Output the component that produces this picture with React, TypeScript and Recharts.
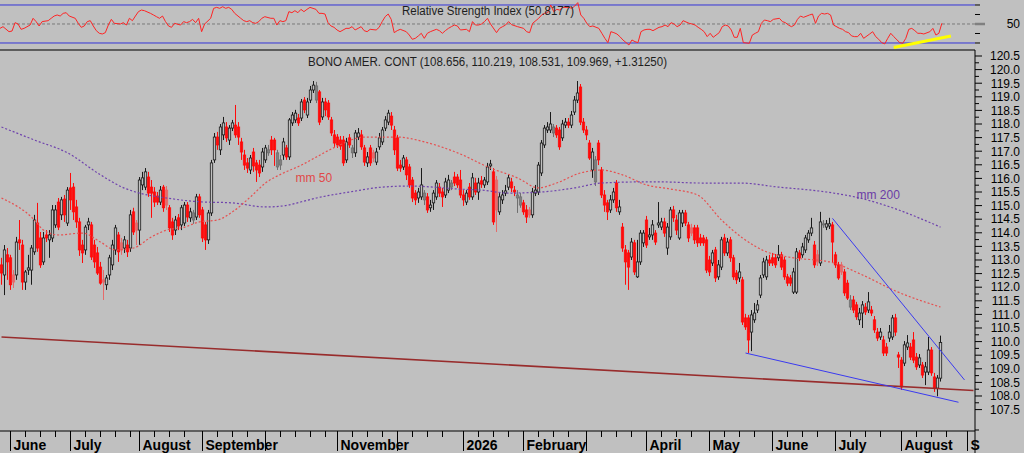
import React from "react";
import {
  ComposedChart,
  Line,
  Bar,
  XAxis,
  YAxis,
  ReferenceLine,
  ReferenceDot,
} from "recharts";

// [open, high, low, close]
type Ohlc = [number, number, number, number];

const may25: Ohlc[] = [
  [112.82, 113.08, 112.09, 112.52], [112.45, 113.55, 111.71, 113.37], [113.19, 113.44, 112.27, 112.93],
];
const jun25: Ohlc[] = [
  [113.08, 113.19, 111.9, 112.09], [112.45, 112.63, 111.97, 112.19], [112.45, 113.85, 112.27, 113.66],
  [113.74, 114.47, 113.37, 113.63], [113.55, 113.74, 111.9, 112.19], [112.19, 112.63, 111.9, 112.56],
  [112.63, 113.19, 112.45, 112.71], [112.63, 113.55, 112.09, 113.44], [113.3, 114.66, 113.19, 114.47],
  [114.36, 115.1, 113.3, 113.44], [113.81, 114.03, 112.71, 112.82], [112.93, 114.03, 112.82, 113.81],
  [113.92, 114.1, 113.66, 113.81], [113.74, 114.1, 113.08, 113.92], [113.81, 115.02, 113.66, 114.84],
  [114.29, 115.02, 114.18, 114.84], [115.13, 115.28, 114.1, 114.21], [114.66, 115.32, 114.47, 115.21],
  [115.24, 115.39, 114.4, 114.66], [114.36, 115.68, 114.25, 115.57],
];
const jul25: Ohlc[] = [
  [115.65, 116.2, 114.84, 115.21], [115.68, 115.83, 114.47, 114.77], [114.95, 115.21, 114.18, 114.4],
  [114.4, 114.55, 113.15, 113.37], [113.55, 113.74, 112.89, 113.26], [113.37, 114.29, 113.19, 114.21],
  [114.29, 114.55, 114.1, 114.4], [114.29, 114.4, 113.0, 113.11], [113.55, 113.74, 112.71, 112.93],
  [113.26, 113.48, 112.45, 112.52], [112.74, 112.93, 112.09, 112.15], [112.27, 112.63, 111.53, 112.19],
  [112.09, 112.45, 111.9, 112.34], [112.45, 113.19, 112.27, 113.08], [112.82, 113.74, 112.63, 113.55],
  [113.37, 114.29, 113.19, 114.18], [113.92, 114.03, 112.93, 113.3], [113.63, 113.81, 113.19, 113.37],
  [113.44, 113.88, 113.26, 113.74], [113.55, 113.74, 113.11, 113.3], [113.44, 114.84, 113.3, 114.66],
  [114.77, 114.92, 113.92, 114.03], [114.36, 114.47, 113.55, 114.1],
];
const aug25: Ohlc[] = [
  [114.1, 116.05, 113.55, 115.94], [115.76, 116.24, 115.57, 116.02], [115.68, 116.38, 115.57, 116.24],
  [116.05, 116.24, 115.32, 115.46], [115.68, 115.94, 114.55, 115.46], [115.5, 115.68, 114.95, 115.13],
  [115.35, 115.5, 115.02, 115.13], [115.13, 115.72, 115.02, 115.57], [115.68, 115.76, 114.77, 114.92],
  [115.57, 115.72, 114.84, 115.02], [114.92, 115.02, 114.03, 114.18], [114.4, 114.55, 113.74, 113.92],
  [114.1, 114.62, 113.92, 114.47], [114.55, 114.69, 114.1, 114.25], [114.29, 115.02, 114.1, 114.92],
  [114.36, 115.13, 114.25, 115.02], [115.02, 115.13, 114.4, 114.58], [114.55, 114.92, 114.4, 114.77],
  [114.47, 114.84, 114.33, 114.73], [114.58, 115.43, 114.47, 115.32], [115.32, 115.43, 114.55, 114.66],
];
const sep25: Ohlc[] = [
  [114.84, 114.95, 113.66, 113.81], [114.29, 114.4, 113.37, 113.74], [113.74, 114.84, 113.59, 114.73],
  [114.73, 116.68, 114.62, 116.57], [116.68, 117.67, 116.57, 117.52], [117.52, 117.71, 117.05, 117.23],
  [117.05, 118.0, 116.86, 117.89], [117.6, 118.26, 117.41, 118.04], [117.89, 118.07, 117.34, 117.49],
  [117.41, 117.96, 117.23, 117.85], [117.85, 118.15, 117.74, 118.04], [117.96, 118.7, 117.49, 117.6],
  [117.89, 118.07, 117.23, 117.52], [117.34, 117.49, 116.68, 116.97], [116.86, 117.05, 116.31, 116.49],
  [116.57, 116.75, 116.2, 116.38], [116.31, 116.86, 116.16, 116.75], [116.97, 117.12, 116.24, 116.46],
  [116.57, 116.68, 115.87, 116.31], [116.49, 116.68, 116.05, 116.2], [116.42, 117.12, 116.24, 116.97],
];
const oct25: Ohlc[] = [
  [116.68, 117.23, 116.57, 117.12], [116.94, 117.23, 116.83, 117.05], [117.41, 117.56, 116.86, 117.05],
  [117.41, 117.49, 116.46, 117.05], [116.42, 117.05, 116.31, 116.94], [116.49, 116.86, 116.31, 116.68],
  [116.86, 117.49, 116.68, 117.34], [117.12, 117.23, 116.68, 116.79], [116.79, 118.22, 116.68, 118.15],
  [118.04, 118.44, 117.93, 118.33], [118.15, 118.52, 118.04, 118.4], [118.22, 118.37, 117.93, 118.04],
  [118.22, 118.92, 118.11, 118.81], [118.88, 118.99, 118.4, 118.52], [118.33, 118.96, 118.22, 118.81],
  [118.88, 119.4, 118.77, 119.25], [119.25, 119.58, 119.14, 119.43], [118.88, 119.55, 118.77, 119.4],
  [119.18, 119.25, 117.96, 118.07], [118.26, 118.96, 118.15, 118.81], [118.81, 118.96, 118.29, 118.52],
  [118.77, 118.88, 118.15, 118.26], [118.15, 118.26, 117.56, 117.67], [117.6, 117.78, 117.16, 117.3],
];
const nov25: Ohlc[] = [
  [117.52, 117.63, 117.12, 117.23], [117.41, 117.56, 117.05, 117.19], [117.41, 117.56, 116.46, 116.57],
  [116.68, 117.49, 116.57, 117.34], [117.49, 117.63, 117.12, 117.23], [116.94, 117.23, 116.75, 117.12],
  [116.94, 117.78, 116.79, 117.67], [117.52, 117.85, 117.41, 117.67], [117.6, 117.78, 117.05, 117.16],
  [117.12, 117.23, 116.46, 116.6], [116.57, 116.97, 116.42, 116.79], [117.12, 117.23, 116.46, 116.57],
  [116.94, 117.05, 116.6, 116.75], [116.6, 117.12, 116.49, 116.97], [117.16, 117.67, 117.05, 117.49],
  [117.34, 117.89, 117.23, 117.78], [117.85, 118.29, 117.74, 118.15], [118.07, 118.52, 117.96, 118.4],
  [118.29, 118.44, 117.78, 117.96], [117.78, 117.93, 116.86, 117.05],
];
const dec25: Ohlc[] = [
  [117.49, 117.6, 116.27, 116.38], [116.49, 116.68, 116.24, 116.38], [116.42, 116.86, 116.31, 116.75],
  [116.68, 116.79, 115.94, 116.13], [116.42, 116.53, 115.65, 115.76], [115.94, 116.05, 115.13, 115.28],
  [115.46, 115.57, 115.02, 115.21], [115.28, 115.65, 115.1, 115.5], [115.32, 116.38, 115.21, 115.76],
  [115.21, 115.57, 115.02, 115.46], [115.32, 115.46, 114.73, 114.84], [114.92, 115.21, 114.77, 115.02],
  [115.1, 115.57, 114.84, 115.46], [115.32, 115.94, 115.21, 115.83], [115.68, 115.83, 115.32, 115.46],
  [115.5, 115.65, 114.95, 115.32], [115.39, 116.02, 115.28, 115.87], [115.57, 116.13, 115.46, 115.94],
  [115.68, 115.94, 115.57, 115.83], [116.05, 116.24, 115.72, 115.83], [116.05, 116.16, 115.65, 115.76],
  [115.94, 116.31, 115.28, 115.39],
];
const jan26: Ohlc[] = [
  [115.39, 115.57, 114.99, 115.21], [115.13, 115.57, 115.02, 115.46], [115.68, 115.83, 115.21, 115.32],
  [115.32, 116.2, 115.21, 116.02], [115.83, 116.02, 115.39, 115.5], [115.5, 116.02, 115.21, 115.83],
  [115.91, 116.09, 115.65, 115.79], [115.76, 116.05, 115.65, 115.94], [115.87, 116.57, 115.76, 116.42],
  [116.46, 116.68, 116.31, 116.53], [116.24, 116.38, 114.29, 114.4], [115.94, 116.09, 114.03, 114.84],
  [114.77, 115.46, 114.66, 115.32], [115.21, 115.57, 115.06, 115.39], [115.46, 115.76, 115.35, 115.54],
  [115.68, 116.13, 115.57, 116.02], [115.87, 116.02, 115.5, 115.65], [115.57, 115.72, 115.35, 115.5],
  [115.28, 115.57, 114.73, 115.39], [115.02, 115.46, 114.92, 115.32],
];
const feb26: Ohlc[] = [
  [115.1, 115.21, 114.66, 114.77], [114.84, 115.02, 114.36, 114.58], [114.84, 114.95, 114.55, 114.66],
  [114.66, 115.65, 114.55, 115.5], [115.46, 115.76, 115.35, 115.57], [115.5, 116.6, 115.39, 116.49],
  [116.2, 117.41, 116.09, 117.3], [117.23, 117.96, 117.12, 117.85], [117.78, 118.07, 117.67, 117.89],
  [117.78, 118.44, 117.67, 118.0], [117.67, 118.0, 117.52, 117.89], [117.85, 117.96, 117.49, 117.6],
  [117.78, 117.89, 117.05, 117.16], [117.49, 118.15, 117.38, 118.0], [117.96, 118.22, 117.85, 118.07],
  [118.07, 118.22, 117.85, 117.96], [117.96, 118.48, 117.85, 118.33], [118.44, 119.03, 118.33, 118.88],
  [118.88, 119.58, 118.77, 119.14], [119.36, 119.47, 117.96, 118.07], [118.07, 118.22, 117.67, 117.78],
];
const mar26: Ohlc[] = [
  [117.78, 117.93, 117.41, 117.6], [117.3, 117.41, 116.68, 116.75], [116.31, 117.12, 116.02, 116.97],
  [115.87, 116.82, 115.72, 116.68], [117.3, 117.41, 116.49, 116.68], [116.31, 116.42, 115.28, 115.39],
  [115.39, 115.57, 114.77, 115.02], [115.1, 115.21, 114.47, 114.77], [114.84, 115.39, 114.73, 115.21],
  [115.21, 115.65, 115.1, 115.5], [115.83, 115.94, 114.77, 114.92], [114.77, 115.21, 114.66, 114.95],
  [114.21, 114.36, 113.3, 113.44], [113.37, 113.55, 112.09, 112.93], [113.26, 113.37, 111.9, 112.74],
  [113.11, 113.81, 113.0, 113.66], [113.63, 113.74, 112.45, 112.56], [112.38, 113.74, 112.34, 112.93],
  [112.93, 114.1, 112.82, 113.99], [113.63, 114.1, 113.48, 113.99],
];
const apr26: Ohlc[] = [
  [114.47, 114.62, 113.44, 113.55], [113.85, 114.18, 113.74, 113.92], [113.92, 114.47, 113.74, 114.29],
  [113.99, 114.1, 113.55, 113.66], [114.29, 115.13, 114.18, 114.36], [114.21, 114.55, 114.1, 114.4],
  [114.4, 114.55, 113.85, 113.99], [113.44, 114.36, 113.19, 114.21], [113.85, 114.95, 113.74, 114.84],
  [114.84, 114.99, 114.4, 114.55], [114.47, 114.66, 113.92, 114.1], [113.81, 114.84, 113.74, 114.73],
  [114.36, 114.84, 114.21, 114.73], [114.73, 114.84, 114.25, 114.36], [114.29, 114.4, 113.66, 113.81],
  [114.18, 114.33, 113.88, 113.99], [114.18, 114.29, 113.59, 113.74], [114.18, 114.29, 113.48, 113.63],
  [113.81, 113.96, 113.52, 113.63], [113.81, 113.92, 113.52, 113.63], [113.74, 113.85, 112.52, 112.63],
];
const may26: Ohlc[] = [
  [113.0, 113.15, 112.41, 112.56], [112.89, 113.37, 112.78, 113.26], [113.37, 113.48, 112.19, 112.34],
  [112.38, 113.0, 112.27, 112.82], [112.74, 113.85, 112.63, 113.74], [113.81, 113.96, 113.15, 113.26],
  [113.26, 113.81, 113.15, 113.66], [113.74, 113.85, 112.93, 113.08], [113.08, 113.19, 112.27, 112.38],
  [112.52, 112.63, 112.12, 112.27], [112.34, 112.89, 112.19, 112.56], [112.27, 112.38, 110.61, 110.72],
  [110.87, 111.02, 110.43, 110.54], [110.87, 110.98, 109.58, 110.06], [110.35, 111.16, 109.65, 110.98],
  [110.8, 111.42, 110.69, 111.05], [111.16, 111.53, 111.05, 111.35], [111.71, 112.45, 111.6, 112.34],
  [112.45, 113.08, 112.34, 112.93], [112.38, 113.15, 112.27, 113.0], [113.0, 113.19, 112.78, 112.89],
];
const jun26: Ohlc[] = [
  [113.08, 113.26, 112.78, 112.89], [113.08, 113.22, 112.71, 112.82], [113.08, 113.55, 112.96, 113.19],
  [113.19, 113.3, 112.63, 112.74], [113.0, 113.11, 112.27, 112.38], [112.38, 112.49, 112.04, 112.15],
  [112.34, 112.45, 112.04, 112.15], [111.82, 112.71, 111.75, 112.56], [111.82, 113.44, 111.75, 113.3],
  [113.26, 113.37, 112.96, 113.08], [113.19, 113.63, 113.08, 113.48], [113.37, 113.92, 113.26, 113.81],
  [113.74, 114.1, 113.63, 113.99], [113.99, 114.55, 113.88, 114.18], [113.55, 113.7, 112.71, 112.82],
  [113.19, 113.37, 112.78, 112.93], [112.89, 114.77, 112.78, 114.4], [114.29, 114.47, 114.18, 114.33],
  [114.21, 114.47, 114.1, 114.33], [114.25, 114.55, 114.14, 114.33], [114.29, 114.4, 112.89, 113.66],
];
const jul26: Ohlc[] = [
  [113.19, 113.3, 112.71, 112.82], [112.82, 112.93, 112.27, 112.34], [112.82, 112.93, 112.45, 112.56],
  [112.56, 112.67, 111.68, 111.79], [112.15, 112.27, 111.53, 111.6], [111.27, 111.71, 111.16, 111.53],
  [111.53, 111.68, 111.05, 111.16], [111.35, 111.46, 110.8, 110.91], [110.8, 111.24, 110.61, 111.05],
  [111.05, 111.49, 110.5, 111.35], [111.27, 111.42, 110.98, 111.09], [111.16, 111.82, 111.05, 111.46],
  [111.16, 111.31, 110.94, 111.05], [110.8, 110.94, 110.32, 110.43], [110.35, 110.5, 110.02, 110.13],
  [110.17, 110.5, 110.06, 110.35], [110.06, 110.21, 109.47, 109.58], [109.8, 109.95, 109.47, 109.58],
  [110.13, 110.61, 109.99, 110.35], [110.17, 110.98, 110.06, 110.87], [110.87, 111.02, 110.21, 110.35],
  [109.51, 109.62, 109.03, 109.43],
];
const aug26: Ohlc[] = [
  [109.32, 109.43, 108.22, 108.33], [109.21, 110.02, 109.1, 109.88], [109.8, 110.24, 109.69, 109.95],
  [109.8, 109.95, 109.32, 109.43], [110.06, 110.35, 109.21, 109.32], [109.43, 109.58, 108.96, 109.07],
  [109.14, 109.54, 109.03, 109.4], [109.14, 109.25, 108.66, 108.77], [108.88, 109.25, 108.4, 109.07],
  [108.88, 110.17, 108.77, 109.69], [109.69, 109.8, 108.74, 108.85], [108.7, 108.85, 108.15, 108.29],
  [108.29, 108.77, 107.99, 108.66], [108.656, 110.219, 108.531, 109.969],
];

const bars: Ohlc[] = [
  ...may25, ...jun25, ...jul25, ...aug25, ...sep25, ...oct25, ...nov25, ...dec25,
  ...jan26, ...feb26, ...mar26, ...apr26, ...may26, ...jun26, ...jul26, ...aug26,
];

// moving averages and RSI: [bar index, value]
const ma50Pts: [number, number][] = [
  [0, 115.28], [11, 114.47], [14, 114.1], [19, 113.92], [27, 113.99], [33, 113.66], [38, 113.37],
  [44, 113.44], [50, 113.85], [55, 114.1], [61, 114.21], [66, 114.4], [72, 114.47], [77, 114.77],
  [83, 115.32], [88, 115.83], [94, 116.2], [100, 116.49], [105, 116.79], [112, 117.19], [121, 117.52],
  [132, 117.52], [141, 117.34], [152, 116.94], [163, 116.38], [172, 116.02], [179, 115.65], [185, 115.83],
  [193, 116.2], [200, 116.31], [207, 116.13], [215, 115.76], [223, 115.61], [232, 115.39], [240, 114.47],
  [247, 113.81], [255, 113.3], [264, 113.08], [276, 112.93], [287, 112.45], [298, 111.86], [313, 111.27],
];
const ma200Pts: [number, number][] = [
  [0, 117.89], [11, 117.41], [22, 116.94], [33, 116.13], [41, 115.64], [46, 115.46], [55, 115.28],
  [66, 115.14], [77, 115.1], [88, 114.95], [94, 114.99], [100, 115.14], [105, 115.28], [116, 115.5],
  [127, 115.68], [136, 115.72], [144, 115.68], [152, 115.61], [160, 115.57], [169, 115.46], [180, 115.5],
  [191, 115.65], [200, 115.83], [213, 115.87], [220, 115.87], [233, 115.83], [246, 115.83], [259, 115.68],
  [275, 115.5], [286, 115.28], [297, 114.92], [309, 114.4], [313, 114.21],
];
const rsiPts: [number, number][] = [
  [0, 45.4], [1, 47.2], [3, 41.9], [4, 42.6], [5, 51.4], [6, 50.0], [7, 44.4], [8, 45.4], [10, 48.9],
  [11, 56.0], [12, 52.5], [13, 47.9], [14, 52.5], [16, 53.5], [17, 56.0], [18, 58.4], [19, 59.5],
  [20, 58.4], [21, 61.2], [22, 61.9], [23, 58.4], [25, 56.0], [26, 50.7], [27, 46.5], [28, 47.9],
  [29, 52.5], [30, 53.5], [31, 47.9], [32, 43.0], [33, 40.2], [34, 39.5], [35, 40.9], [36, 48.9],
  [37, 54.9], [38, 50.7], [40, 50.0], [41, 51.4], [42, 48.9], [43, 56.0], [44, 53.5], [45, 58.4],
  [46, 63.0], [47, 64.7], [48, 64.0], [50, 61.2], [51, 59.5], [52, 57.7], [53, 56.0], [54, 58.4],
  [55, 52.5], [56, 47.9], [57, 46.5], [58, 50.7], [60, 48.9], [61, 52.5], [62, 51.4], [63, 52.5],
  [64, 54.9], [65, 51.4], [66, 56.0], [67, 41.9], [68, 50.0], [70, 56.0], [71, 66.5], [72, 67.5],
  [73, 66.5], [74, 68.2], [75, 66.5], [76, 67.5], [77, 65.4], [78, 61.2], [80, 56.0], [81, 53.5],
  [82, 52.5], [83, 53.5], [84, 51.4], [85, 50.7], [86, 52.5], [87, 56.0], [88, 57.7], [90, 56.0],
  [91, 56.0], [92, 48.9], [93, 53.5], [94, 52.5], [95, 53.5], [96, 63.0], [97, 61.9], [98, 64.0],
  [99, 61.9], [100, 65.4], [101, 63.0], [102, 65.4], [103, 67.5], [105, 65.4], [106, 61.2],
  [107, 61.2], [108, 60.5], [109, 51.4], [110, 47.9], [111, 46.5], [112, 43.7], [113, 41.9],
  [115, 45.4], [116, 45.4], [117, 47.2], [118, 43.7], [119, 45.4], [120, 47.2], [121, 43.0],
  [122, 41.9], [123, 44.4], [125, 43.7], [126, 46.5], [127, 52.5], [128, 57.7], [129, 60.5],
  [130, 54.9], [131, 40.9], [132, 43.0], [133, 44.4], [135, 41.9], [136, 38.4], [137, 33.9],
  [138, 34.9], [139, 37.4], [140, 40.2], [141, 34.9], [142, 40.2], [143, 41.9], [145, 44.4],
  [146, 43.0], [147, 40.2], [148, 43.0], [149, 45.4], [150, 47.2], [151, 48.9], [152, 47.9],
  [153, 43.7], [155, 44.4], [156, 41.9], [157, 52.5], [158, 48.9], [159, 48.9], [160, 50.0],
  [161, 52.5], [162, 56.0], [163, 50.0], [165, 40.9], [166, 45.4], [167, 47.2], [168, 48.9],
  [169, 52.5], [170, 49.3], [172, 47.2], [174, 45.4], [175, 41.9], [176, 40.9], [177, 50.7],
  [179, 56.0], [180, 59.5], [181, 61.2], [182, 61.9], [183, 70.0], [184, 63.0], [185, 65.4],
  [186, 64.7], [187, 67.5], [189, 67.5], [190, 66.5], [191, 68.9], [192, 72.5], [193, 59.5],
  [194, 56.0], [195, 50.7], [196, 47.2], [197, 47.9], [199, 45.4], [200, 40.2], [201, 34.9],
  [202, 30.4], [203, 41.9], [204, 40.9], [205, 39.5], [206, 36.7], [207, 33.2], [209, 27.9],
  [210, 33.2], [211, 31.4], [212, 30.4], [213, 41.9], [214, 43.7], [215, 44.4], [216, 44.4],
  [217, 43.0], [219, 46.5], [220, 47.2], [221, 48.9], [222, 47.2], [223, 51.4], [224, 50.0],
  [225, 47.2], [226, 48.9], [227, 53.5], [229, 50.7], [230, 50.0], [231, 48.9], [232, 46.5],
  [233, 44.4], [234, 41.9], [235, 36.7], [236, 40.2], [237, 36.0], [239, 40.9], [240, 47.2],
  [241, 48.9], [242, 47.9], [243, 43.7], [244, 36.0], [245, 36.0], [246, 45.4], [247, 30.4],
  [249, 29.7], [250, 38.4], [251, 40.2], [252, 41.9], [253, 50.7], [254, 54.2], [255, 53.5],
  [256, 52.5], [257, 54.9], [259, 56.0], [260, 52.5], [261, 51.4], [262, 48.9], [263, 47.2],
  [264, 48.9], [265, 54.9], [266, 58.4], [267, 57.0], [269, 59.5], [270, 60.5], [271, 50.7],
  [272, 58.4], [273, 61.2], [274, 60.5], [275, 61.2], [276, 59.5], [277, 48.9], [279, 45.4],
  [280, 44.4], [281, 41.9], [282, 40.9], [283, 37.4], [284, 36.7], [285, 36.7], [286, 40.2],
  [287, 34.9], [289, 39.5], [290, 41.9], [291, 36.7], [292, 33.9], [293, 30.4], [294, 29.0],
  [295, 34.9], [296, 40.2], [297, 36.7], [299, 30.4], [300, 29.7], [301, 34.9], [302, 44.4],
  [303, 45.4], [304, 43.0], [305, 40.2], [306, 40.2], [307, 39.5], [309, 41.9], [310, 45.4],
  [311, 38.4], [312, 40.2], [313, 50.8],
];

// hand-drawn trend lines: [bar index, value]
const supportLine: [number, number][] = [[0, 110.17], [324, 108.2]];
const wedgeLow: [number, number][] = [[248, 109.58], [319, 107.77]];
const wedgeHigh: [number, number][] = [[277, 114.53], [321, 108.59]];
const rsiTrend: [number, number][] = [[297, 25.3], [316, 37.4]];

const monthIdx = [3, 23, 46, 67, 88, 112, 132, 154, 174, 195, 215, 236, 257, 278, 300, 322];
// October, December and March are hidden behind the longer names; September at the edge shows as "S"
const monthLabels = [
  "June", "July", "August", "September", "", "November", "", "2026",
  "February", "", "April", "May", "June", "July", "August", "S",
];
const priceLabels = [
  107.5, 108, 108.5, 109, 109.5, 110, 110.5, 111, 111.5, 112, 112.5, 113, 113.5, 114,
  114.5, 115, 115.5, 116, 116.5, 117, 117.5, 118, 118.5, 119, 119.5, 120, 120.5,
];
const rsiTicks = [30, 40, 50, 60, 70];

const SLOTS = 325;
const PLOT_W = 975;
const FONT = "'Liberation Sans', Arial, Helvetica, sans-serif";

const priceTicks = [106.75, ...priceLabels.flatMap((v) => (v < 120.5 ? [v, v + 0.25] : [v]))];

const weekIdx = new Set<number>();
monthIdx.forEach((m, k) => {
  const next = monthIdx[k + 1] ?? SLOTS;
  for (let w = m + 5; w < next - 2; w += 5) weekIdx.add(w);
});

const rows: any[] = Array.from({ length: SLOTS }, (_, i) => {
  const b = bars[i];
  if (!b) return { i };
  return { i, o: b[0], h: b[1], l: b[2], c: b[3], hl: [b[2], b[1]], pc: i > 0 ? bars[i - 1][3] : null };
});
ma50Pts.forEach(([i, v]) => (rows[i].ma50 = v));
ma200Pts.forEach(([i, v]) => (rows[i].ma200 = v));
rsiPts.forEach(([i, v]) => (rows[i].rsi = v));

const seg = (p: [number, number][]) => p.map(([x, y]) => ({ x, y }));

function Candle(props: any) {
  const { x, y, width, height, payload } = props;
  if (!payload || payload.o == null) return <g />;
  const { o, h, l, c, pc } = payload;
  const top = Math.min(y, y + height);
  const span = Math.abs(height);
  const toY = (p: number) => (h === l ? top : top + ((h - p) / (h - l)) * span);
  const cx = x + width / 2;
  const yo = toY(o);
  const yc = toY(c);
  let stroke = "#ff0a0a";
  let fill = "#ff0a0a";
  if (c >= o) {
    if (pc != null && c < pc) {
      stroke = "#6f6f6f";
      fill = "#808080";
    } else {
      stroke = "#1a1a1a";
      fill = "#c0c0c0";
    }
  } else if (pc != null && c > pc) {
    stroke = "#e66a6a";
    fill = "#e66a6a";
  }
  return (
    <g>
      <line x1={cx} x2={cx} y1={top} y2={top + span} stroke={stroke} strokeWidth={1} />
      <rect
        x={cx - 1.2}
        y={Math.min(yo, yc)}
        width={2.4}
        height={Math.max(Math.abs(yo - yc), 1)}
        fill={fill}
        stroke={stroke}
        strokeWidth={0.8}
      />
    </g>
  );
}

function MonthTick(props: any) {
  const { x, y, payload } = props;
  const k = monthIdx.indexOf(payload.value);
  if (k >= 0) {
    const label = monthLabels[k];
    return (
      <g>
        <line x1={x} x2={x} y1={y} y2={y + 20} stroke="#000" />
        {label && (
          <text x={x + 3} y={y + 19} fontFamily={FONT} fontWeight="bold" fontSize={14} fill="#000">
            {label}
          </text>
        )}
      </g>
    );
  }
  if (weekIdx.has(payload.value)) {
    return <line x1={x} x2={x} y1={y} y2={y + 6} stroke="#000" />;
  }
  return <g />;
}

function PriceTick(props: any) {
  const { x, y, payload } = props;
  const v = payload.value;
  const major = priceLabels.includes(v);
  return (
    <g>
      <line x1={x} x2={x + (major ? 7 : 4)} y1={y} y2={y} stroke="#000" />
      {major && (
        <text x={x + 45} y={y + 4.3} textAnchor="end" fontFamily={FONT} fontSize={12} fill="#000">
          {v.toFixed(1)}
        </text>
      )}
    </g>
  );
}

function RsiTick(props: any) {
  const { x, y, payload } = props;
  const mid = payload.value === 50;
  return (
    <g>
      <line
        x1={x}
        x2={x + (mid ? 10 : 5)}
        y1={y}
        y2={y}
        stroke={mid ? "#808080" : "#000"}
        strokeWidth={mid ? 2.5 : 1}
      />
      {mid && (
        <text x={x + 45} y={y + 4.3} textAnchor="end" fontFamily={FONT} fontSize={12} fill="#000">
          50
        </text>
      )}
    </g>
  );
}

function MaLabel(props: any) {
  const vb = props.viewBox;
  if (!vb) return null;
  return (
    <text x={vb.x} y={vb.y} fontFamily={FONT} fontSize={12} fill={props.color}>
      {props.text}
    </text>
  );
}

export default function App() {
  return (
    <div
      style={{
        position: "fixed",
        left: 0,
        top: 0,
        width: 1024,
        height: 453,
        background: "#c0c0c0",
        overflow: "hidden",
      }}
    >
      <div style={{ position: "absolute", left: 0, top: 0 }}>
        <ComposedChart width={1024} height={50} data={rows} margin={{ top: 0, right: 0, bottom: 0, left: 0 }}>
          <XAxis dataKey="i" hide />
          <YAxis
            orientation="right"
            width={49}
            type="number"
            domain={[22.63, 75.26]}
            allowDataOverflow
            ticks={rsiTicks}
            interval={0}
            axisLine={false}
            tickLine={false}
            tickSize={0}
            tickMargin={0}
            tick={(p: any) => <RsiTick {...p} />}
          />
          <ReferenceLine y={70} stroke="#3434d8" strokeWidth={1} />
          <ReferenceLine y={30} stroke="#3434d8" strokeWidth={1} />
          <ReferenceLine y={50} stroke="#7a7a7a" strokeDasharray="3 2" strokeWidth={1} />
          <Line
            dataKey="rsi"
            type="linear"
            stroke="#ff2424"
            strokeWidth={1}
            dot={false}
            activeDot={false}
            connectNulls
            isAnimationActive={false}
          />
          <ReferenceLine segment={seg(rsiTrend)} stroke="#ffff00" strokeWidth={3} ifOverflow="visible" />
        </ComposedChart>
      </div>

      <div style={{ position: "absolute", left: 0, top: 50 }}>
        <ComposedChart
          width={1024}
          height={403}
          data={rows}
          margin={{ top: 1, right: 0, bottom: 0, left: 0 }}
          barCategoryGap={0}
        >
          <XAxis
            dataKey="i"
            type="category"
            height={22}
            interval={0}
            tickLine={false}
            tickSize={0}
            tickMargin={0}
            axisLine={{ stroke: "#000" }}
            tick={(p: any) => <MonthTick {...p} />}
          />
          <YAxis
            orientation="right"
            width={49}
            type="number"
            domain={[106.713, 120.684]}
            allowDataOverflow
            ticks={priceTicks}
            interval={0}
            axisLine={false}
            tickLine={false}
            tickSize={0}
            tickMargin={0}
            tick={(p: any) => <PriceTick {...p} />}
          />
          <ReferenceLine segment={seg(supportLine)} stroke="#982c2c" strokeWidth={1.6} ifOverflow="visible" />
          <Line
            dataKey="ma200"
            type="monotone"
            stroke="#6f43ad"
            strokeWidth={1.2}
            strokeDasharray="2 2"
            dot={false}
            activeDot={false}
            connectNulls
            isAnimationActive={false}
          />
          <Line
            dataKey="ma50"
            type="monotone"
            stroke="#e65050"
            strokeWidth={1.2}
            strokeDasharray="2 2"
            dot={false}
            activeDot={false}
            connectNulls
            isAnimationActive={false}
          />
          <Bar dataKey="hl" shape={(p: any) => <Candle {...p} />} isAnimationActive={false} />
          <ReferenceLine segment={seg(wedgeLow)} stroke="#3a3af0" strokeWidth={1} ifOverflow="visible" />
          <ReferenceLine segment={seg(wedgeHigh)} stroke="#3a3af0" strokeWidth={1} ifOverflow="visible" />
          <ReferenceDot
            x={98}
            y={115.87}
            r={0}
            fill="none"
            stroke="none"
            label={<MaLabel text="mm 50" color="#e04848" />}
          />
          <ReferenceDot
            x={285}
            y={115.26}
            r={0}
            fill="none"
            stroke="none"
            label={<MaLabel text="mm 200" color="#6a3ca6" />}
          />
        </ComposedChart>
      </div>

      <svg
        width={1024}
        height={453}
        style={{ position: "absolute", left: 0, top: 0, pointerEvents: "none" }}
      >
        <line x1={0} x2={PLOT_W} y1={50} y2={50} stroke="#3c3c3c" strokeWidth={1.5} />
        <line x1={PLOT_W} x2={PLOT_W} y1={50} y2={453} stroke="#000" strokeWidth={1} />
        <text
          x={488}
          y={15}
          textAnchor="middle"
          fontFamily={FONT}
          fontSize={12}
          fill="#1e1e1e"
          textLength={172}
          lengthAdjust="spacingAndGlyphs"
        >
          Relative Strength Index (50.8177)
        </text>
        <text
          x={487.5}
          y={65.5}
          textAnchor="middle"
          fontFamily={FONT}
          fontSize={12}
          fill="#1e1e1e"
          textLength={359}
          lengthAdjust="spacingAndGlyphs"
        >
          BONO AMER. CONT (108.656, 110.219, 108.531, 109.969, +1.31250)
        </text>
      </svg>
    </div>
  );
}
